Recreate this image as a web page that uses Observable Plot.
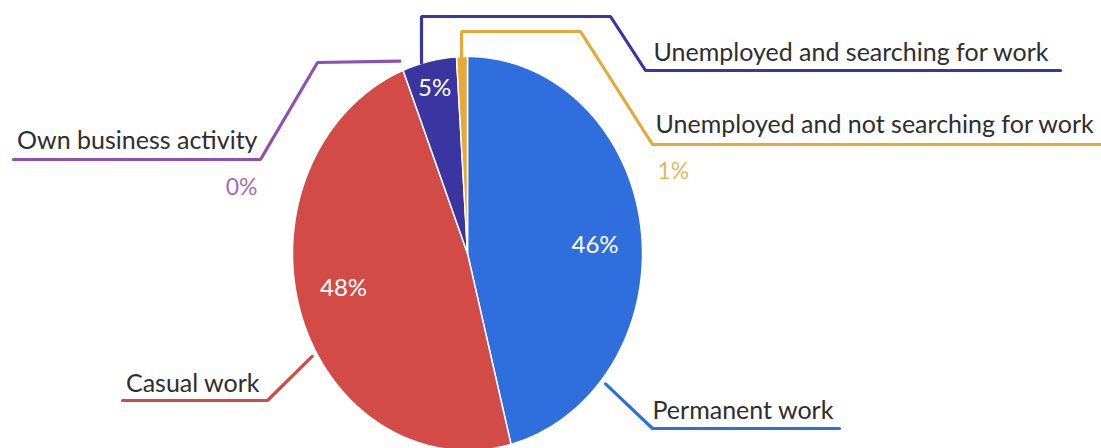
<!DOCTYPE html>
<html><head><meta charset="utf-8">
<script src="https://cdn.jsdelivr.net/npm/d3@7"></script>
<script src="https://cdn.jsdelivr.net/npm/@observablehq/plot@0.6"></script>
<style>
body{margin:0;background:#fff;}
#chart{width:1101px;height:448px;overflow:hidden;}
</style>
</head><body><div id="chart"></div>
<script>
// ---- data ----
const categories = ["Permanent work","Casual work","Own business activity","Unemployed and searching for work","Unemployed and not searching for work"];
const shares = [46, 48, 0, 5, 1];
const percentLabels = ["46%","48%","0%","5%","1%"];
const colors = ["#2f6fdd","#d24b47","#9050b0","#3a35a0","#e5a935"];

// ---- layout (pie geometry in pixels) ----
const CX = 467, CY = 253, RX = 175, RY = 197;
const toU = ([px, py]) => [(px - CX) / RX, (py - CY) / RY];
const edge = (deg, r = 1) => [r * Math.sin(deg * Math.PI / 180), -r * Math.cos(deg * Math.PI / 180)];

const total = d3.sum(shares);
let acc = 0;
const slices = categories.map((c, i) => {
  const a0 = acc / total * 360; acc += shares[i];
  const a1 = acc / total * 360;
  return {cat: c, a0, a1, mid: (a0 + a1) / 2, share: shares[i]};
});

const sliceRows = [];
slices.forEach(s => {
  if (s.a1 - s.a0 <= 0) return;
  sliceRows.push({cat: s.cat, x: 0, y: 0});
  const n = Math.max(2, Math.ceil(s.a1 - s.a0) * 2);
  for (let k = 0; k <= n; k++) {
    const [x, y] = edge(s.a0 + (s.a1 - s.a0) * k / n);
    sliceRows.push({cat: s.cat, x, y});
  }
});

const insideLabels = slices.map((s, i) => ({s, i})).filter(d => d.s.share >= 3).map(({s, i}) => {
  const r = s.share < 10 ? 0.86 : 0.73;
  const [x, y] = edge(s.mid + (s.share > 40 ? 4 : 0), r);
  return {x, y, text: percentLabels[i]};
});

const callouts = [
  {i: 0, angle: 130, r: 1.03, pts: [[652,428],[839,428]], tx: 652, ty: 410, anchor: "start"},
  {i: 1, angle: 239.5, r: 1.03, pts: [[267,400],[122,400]], tx: 259, ty: 383, anchor: "end"},
  {i: 2, angle: null, r: 1.05, pts: [[317,62],[260,159],[13,159]], tx: 257, ty: 140, anchor: "end", pct: [257,187,"end"]},
  {i: 3, angle: 345.5, r: 1.0, pts: [[421,16],[610,16],[645,70],[1060,70]], tx: 653, ty: 52, anchor: "start"},
  {i: 4, angle: 358.3, r: 1.0, pts: [[461,31],[580,31],[652,144],[1110,144]], tx: 655, ty: 124, anchor: "start", pct: [657,171,"start"]}
];
const lineRows = [];
const textStart = [], textEnd = [], pctOut = [];
callouts.forEach(c => {
  const s = slices[c.i];
  const ang = c.angle == null ? s.a0 : c.angle;
  const [ax, ay] = edge(ang, c.r);
  let first = [ax, ay];
  if (c.i >= 3) first = [toU(c.pts[0])[0], ay];
  lineRows.push({cat: s.cat, x: first[0], y: first[1]});
  c.pts.forEach(p => { const [x, y] = toU(p); lineRows.push({cat: s.cat, x, y}); });
  const [tx, ty] = toU([c.tx, c.ty]);
  (c.anchor === "start" ? textStart : textEnd).push({x: tx, y: ty, text: s.cat});
  if (c.pct) { const [px, py] = toU(c.pct); pctOut.push({x: px, y: py, text: percentLabels[c.i], cat: s.cat, anchor: c.pct[2]}); }
});

const font = "Lato, 'Open Sans', sans-serif";
const FS = 25;
const chart = Plot.plot({
  width: 1101, height: 448,
  margin: 0,
  style: {background: "transparent", fontFamily: font},
  x: {domain: [-1, 1], range: [CX - RX, CX + RX], axis: null},
  y: {domain: [-1, 1], range: [CY - RY, CY + RY], axis: null},
  color: {domain: categories, range: colors},
  marks: [
    Plot.line(sliceRows, {x: "x", y: "y", z: "cat", fill: "cat", stroke: "white", strokeWidth: 1.5, curve: "linear-closed"}),
    Plot.line(lineRows, {x: "x", y: "y", z: "cat", stroke: "cat", strokeWidth: 3.2, curve: "linear", strokeLinejoin: "miter"}),
    Plot.text(insideLabels, {x: "x", y: "y", text: "text", fill: "white", fontSize: 24, fontFamily: font}),
    Plot.text(textStart, {x: "x", y: "y", text: "text", fill: "#2e2e2e", fontSize: FS, fontFamily: font, textAnchor: "start"}),
    Plot.text(textEnd, {x: "x", y: "y", text: "text", fill: "#2e2e2e", fontSize: FS, fontFamily: font, textAnchor: "end"}),
    Plot.text(pctOut.filter(d => d.anchor === "start"), {x: "x", y: "y", text: "text", fill: "cat", fontSize: 23, fontFamily: font, textAnchor: "start", fillOpacity: 0.85}),
    Plot.text(pctOut.filter(d => d.anchor === "end"), {x: "x", y: "y", text: "text", fill: "cat", fontSize: 23, fontFamily: font, textAnchor: "end", fillOpacity: 0.85})
  ]
});
document.getElementById("chart").appendChild(chart);
</script>
</body></html>
